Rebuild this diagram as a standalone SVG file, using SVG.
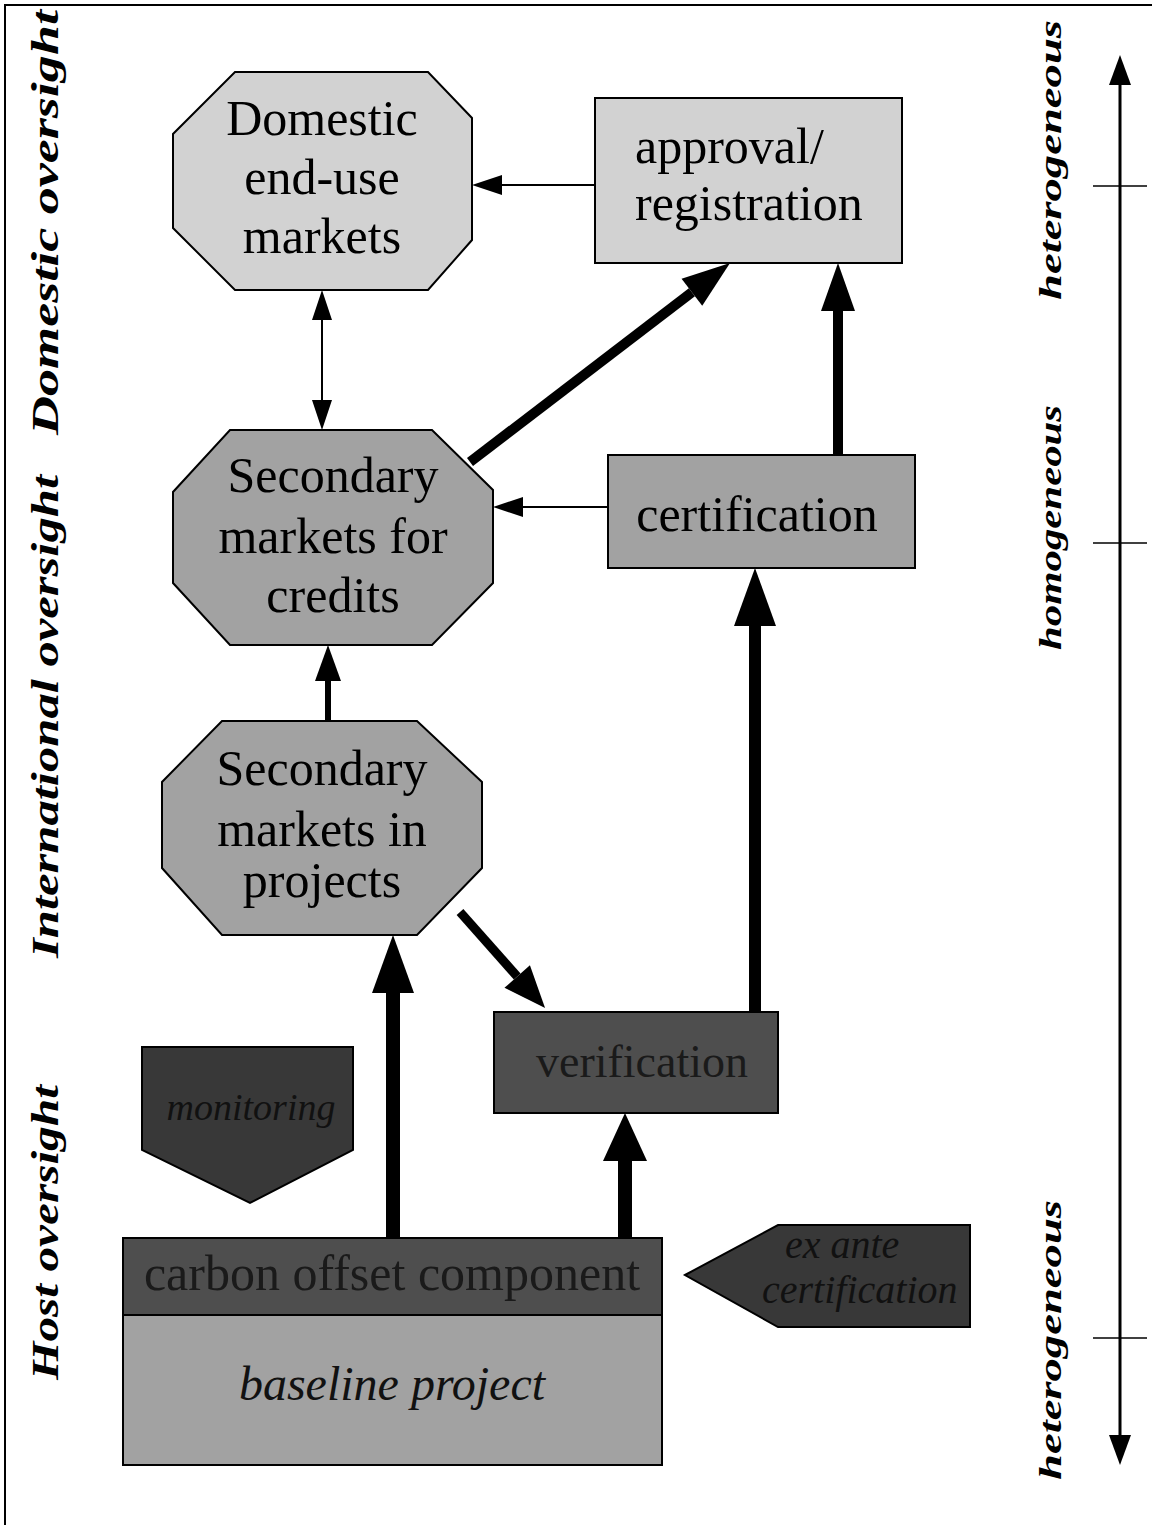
<svg xmlns="http://www.w3.org/2000/svg" width="1155" height="1525" viewBox="0 0 1155 1525">
<style>
.node{stroke:#000;stroke-width:2}
.l1{fill:#d2d2d2}
.l2{fill:#a2a2a2}
.l3{fill:#4e4e4e}
.l4{fill:#383838}
.t{font-family:"Liberation Serif","Times New Roman",serif;font-size:50px;fill:#000;text-anchor:middle}
.ti{font-family:"Liberation Serif","Times New Roman",serif;font-style:italic;fill:#111}
.side{font-family:"Liberation Serif","Times New Roman",serif;font-style:italic;font-weight:bold;fill:#000}
.ln{stroke:#000;fill:none}
</style>
<defs>
<marker id="ah-s" markerUnits="userSpaceOnUse" markerWidth="30" markerHeight="20" refX="0" refY="10" orient="auto-start-reverse" overflow="visible"><path d="M0,0 L30,10 L0,20 z"/></marker>
<marker id="ah-m" markerUnits="userSpaceOnUse" markerWidth="36" markerHeight="26" refX="0" refY="13" orient="auto" overflow="visible"><path d="M0,0 L36,13 L0,26 z"/></marker>
<marker id="ah-d" markerUnits="userSpaceOnUse" markerWidth="42" markerHeight="34" refX="0" refY="17" orient="auto" overflow="visible"><path d="M0,0 L42,17 L0,34 z"/></marker>
<marker id="ah-l" markerUnits="userSpaceOnUse" markerWidth="48" markerHeight="34" refX="0" refY="17" orient="auto" overflow="visible"><path d="M0,0 L48,17 L0,34 z"/></marker>
<marker id="ah-xl" markerUnits="userSpaceOnUse" markerWidth="58" markerHeight="42" refX="0" refY="21" orient="auto" overflow="visible"><path d="M0,0 L58,21 L0,42 z"/></marker>
<marker id="ah-w" markerUnits="userSpaceOnUse" markerWidth="48" markerHeight="44" refX="0" refY="22" orient="auto" overflow="visible"><path d="M0,0 L48,22 L0,44 z"/></marker>
<marker id="ah-ax" markerUnits="userSpaceOnUse" markerWidth="30" markerHeight="22" refX="0" refY="11" orient="auto-start-reverse" overflow="visible"><path d="M0,0 L30,11 L0,22 z"/></marker>
</defs>
<rect x="0" y="0" width="1155" height="1525" fill="#fff"/>
<path d="M5,1525 V5 H1152" fill="none" stroke="#000" stroke-width="2"/>

<g id="labels">
<text class="side" font-size="38" transform="translate(58,435) rotate(-90)" textLength="425" lengthAdjust="spacingAndGlyphs">Domestic oversight</text>
<text class="side" font-size="38" transform="translate(58,958) rotate(-90)" textLength="483" lengthAdjust="spacingAndGlyphs">International oversight</text>
<text class="side" font-size="38" transform="translate(58,1380) rotate(-90)" textLength="295" lengthAdjust="spacingAndGlyphs">Host oversight</text>
<text class="side" font-size="32" transform="translate(1061,300) rotate(-90)" textLength="280" lengthAdjust="spacingAndGlyphs">heterogeneous</text>
<text class="side" font-size="32" transform="translate(1061,650) rotate(-90)" textLength="245" lengthAdjust="spacingAndGlyphs">homogeneous</text>
<text class="side" font-size="32" transform="translate(1061,1480) rotate(-90)" textLength="280" lengthAdjust="spacingAndGlyphs">heterogeneous</text>
</g>

<g id="axis">
<line class="ln" x1="1120" y1="85" x2="1120" y2="1435" stroke-width="3" marker-start="url(#ah-ax)" marker-end="url(#ah-ax)"/>
<line class="ln" x1="1093" y1="186" x2="1147" y2="186" stroke-width="1.5"/>
<line class="ln" x1="1093" y1="543" x2="1147" y2="543" stroke-width="1.5"/>
<line class="ln" x1="1093" y1="1338" x2="1147" y2="1338" stroke-width="1.5"/>
</g>

<g id="domestic">
<polygon class="node l1" points="235,72 428,72 472,118 472,240 428,290 235,290 173,228 173,134"/>
<text class="t" x="322" y="135">Domestic</text>
<text class="t" x="322" y="194">end-use</text>
<text class="t" x="322" y="253">markets</text>
</g>

<g id="approval">
<rect class="node l1" x="595" y="98" width="307" height="165"/>
<text class="t" x="635" y="163" text-anchor="start" style="text-anchor:start">approval/</text>
<text class="t" x="635" y="220" style="text-anchor:start">registration</text>
</g>

<g id="credits">
<polygon class="node l2" points="230,430 432,430 493,490 493,583 432,645 230,645 173,583 173,492"/>
<text class="t" x="333" y="492">Secondary</text>
<text class="t" x="333" y="553">markets for</text>
<text class="t" x="333" y="612">credits</text>
</g>

<g id="certification">
<rect class="node l2" x="608" y="455" width="307" height="113"/>
<text class="t" x="757" y="531">certification</text>
</g>

<g id="projects">
<polygon class="node l2" points="222,721 417,721 482,782 482,868 417,935 222,935 162,868 162,782"/>
<text class="t" x="322" y="785">Secondary</text>
<text class="t" x="322" y="846">markets in</text>
<text class="t" x="322" y="897">projects</text>
</g>

<g id="verification">
<rect class="node l3" x="494" y="1012" width="284" height="101"/>
<text class="t" x="642" y="1077" style="font-size:46px;fill:#1a1a1a">verification</text>
</g>

<g id="monitoring">
<polygon class="node l4" points="142,1047 353,1047 353,1150 250,1203 142,1150"/>
<text class="ti" x="251" y="1120" font-size="38" text-anchor="middle">monitoring</text>
</g>

<g id="carbon">
<rect class="node l3" x="123" y="1238" width="539" height="77"/>
<text class="t" x="392" y="1290" style="fill:#1a1a1a">carbon offset component</text>
</g>

<g id="baseline">
<rect class="node l2" x="123" y="1315" width="539" height="150"/>
<text class="ti" x="392" y="1400" font-size="48" text-anchor="middle">baseline project</text>
</g>

<g id="exante">
<polygon class="node l4" points="685,1275 778,1225 970,1225 970,1327 778,1327"/>
<text class="ti" x="785" y="1258" font-size="40">ex ante</text>
<text class="ti" x="762" y="1303" font-size="40">certification</text>
</g>

<g id="connectors">
<line class="ln" x1="595" y1="185" x2="502" y2="185" stroke-width="2" marker-end="url(#ah-s)"/>
<line class="ln" x1="608" y1="507" x2="523" y2="507" stroke-width="2" marker-end="url(#ah-s)"/>
<line class="ln" x1="322" y1="320" x2="322" y2="400" stroke-width="2" marker-start="url(#ah-s)" marker-end="url(#ah-s)"/>
<line class="ln" x1="470" y1="462" x2="691.9" y2="292.2" stroke-width="10" marker-end="url(#ah-l)"/>
<line class="ln" x1="838" y1="455" x2="838" y2="311" stroke-width="10" marker-end="url(#ah-l)"/>
<line class="ln" x1="328" y1="721" x2="328" y2="681" stroke-width="6" marker-end="url(#ah-m)"/>
<line class="ln" x1="755" y1="1012" x2="755" y2="626" stroke-width="12" marker-end="url(#ah-xl)"/>
<line class="ln" x1="460" y1="912" x2="517.2" y2="976.5" stroke-width="9" marker-end="url(#ah-d)"/>
<line class="ln" x1="393" y1="1238" x2="393" y2="993" stroke-width="14" marker-end="url(#ah-xl)"/>
<line class="ln" x1="625" y1="1238" x2="625" y2="1161" stroke-width="14" marker-end="url(#ah-w)"/>
</g>
</svg>
